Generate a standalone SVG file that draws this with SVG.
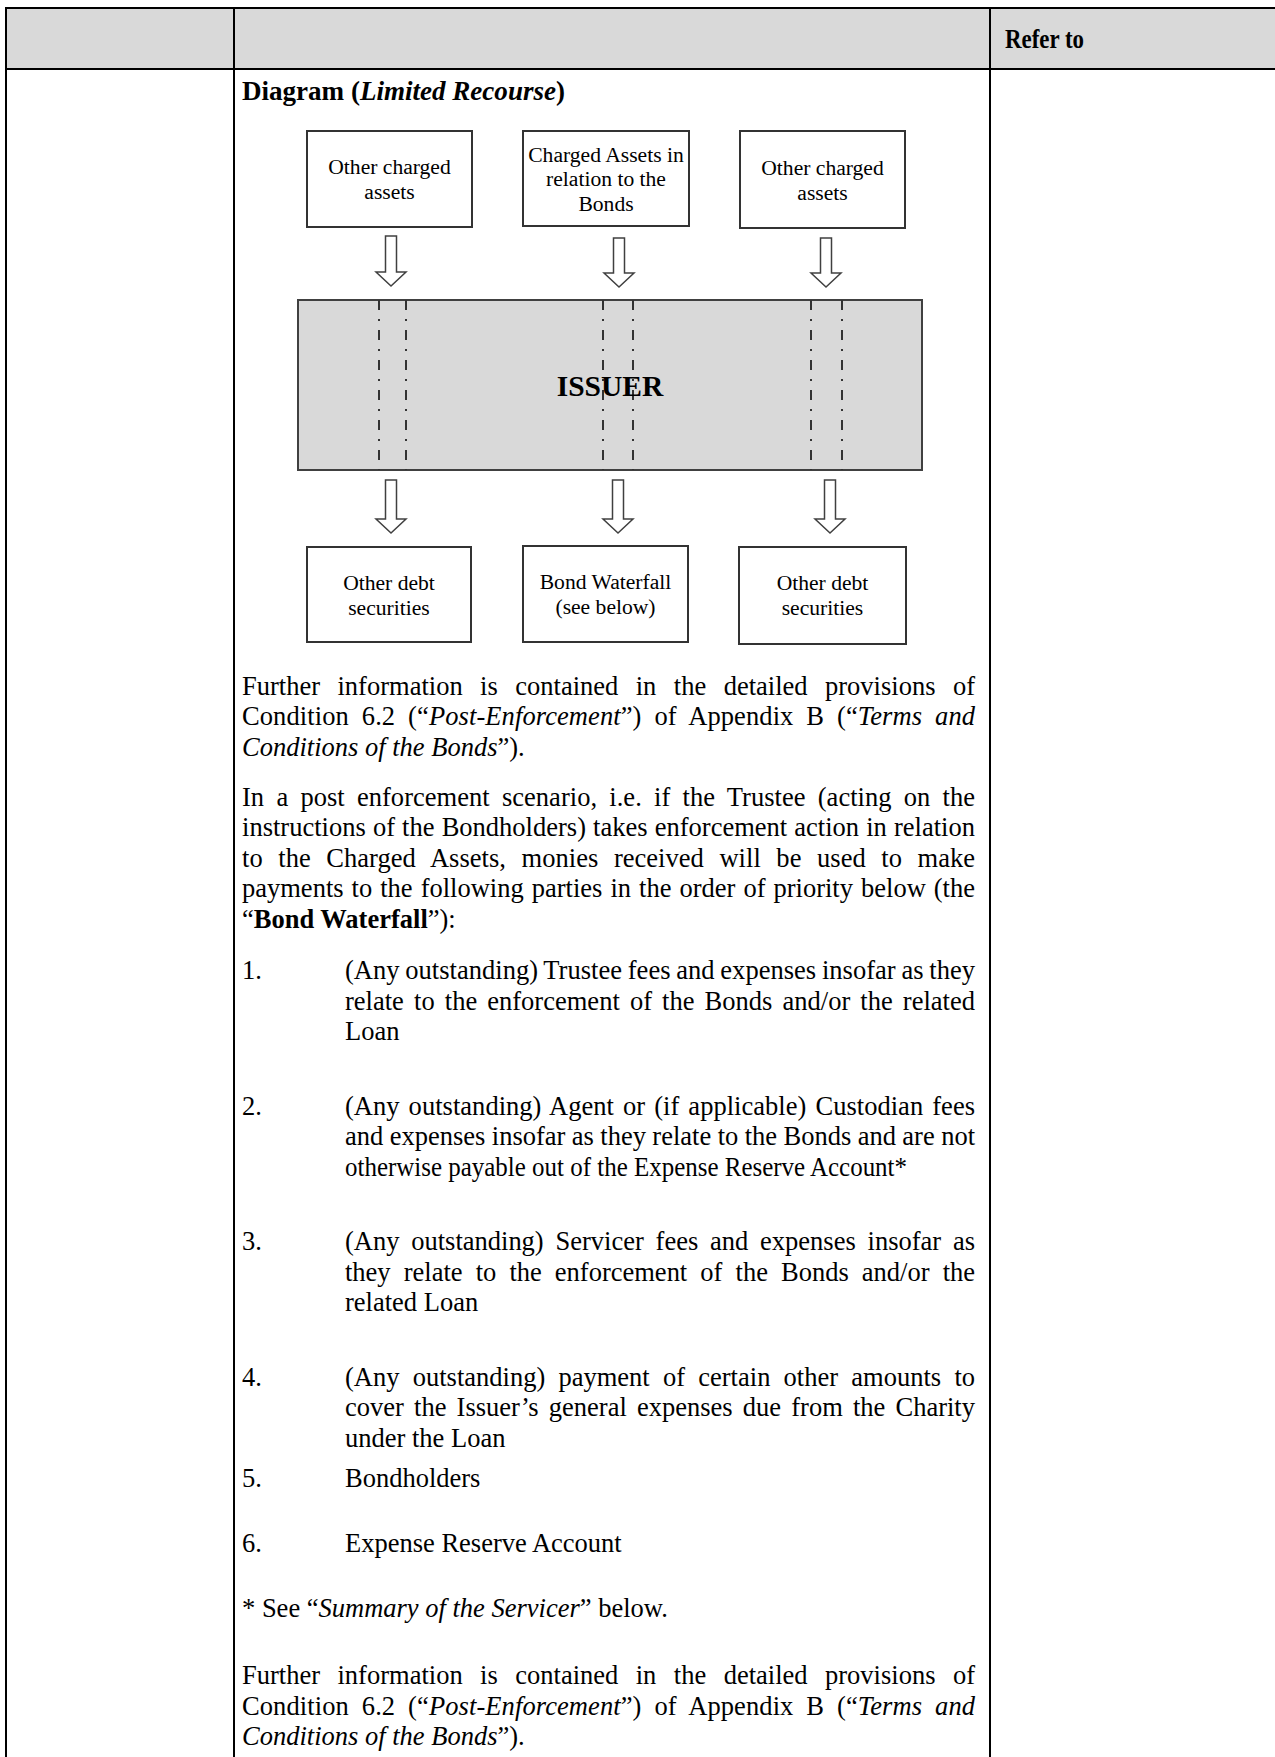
<svg xmlns="http://www.w3.org/2000/svg" width="1275" height="1757" viewBox="0 0 1275 1757">
<style>
.t{font-family:"Liberation Serif","Times New Roman",serif;font-size:26.5px;fill:#000}
.b{font-weight:bold}
.i{font-style:italic}
.grid{stroke:#000;stroke-width:2;fill:none}
.box{fill:#fff;stroke:#333;stroke-width:2}
.bt{font-family:"Liberation Serif","Times New Roman",serif;font-size:21.6px;fill:#000;text-anchor:middle}
.arrow{fill:#fff;stroke:#404040;stroke-width:1.5;stroke-linejoin:miter}
.dash{stroke:#333;stroke-width:2;stroke-dasharray:10 9 2 9;fill:none}
</style>
<rect x="0" y="0" width="1275" height="1757" fill="#fff"/>
<g id="table">
  <rect x="6" y="8" width="1269" height="61" fill="#d9d9d9"/>
  <line class="grid" x1="5" y1="8" x2="1275" y2="8"/>
  <line class="grid" x1="5" y1="69" x2="1275" y2="69"/>
  <line class="grid" x1="6" y1="7" x2="6" y2="1757"/>
  <line class="grid" x1="234" y1="7" x2="234" y2="1757"/>
  <line class="grid" x1="990" y1="7" x2="990" y2="1757"/>
  <text class="t b" x="1005" y="48" textLength="79" lengthAdjust="spacingAndGlyphs">Refer to</text>
  <text class="t b" x="242" y="100" textLength="323" lengthAdjust="spacingAndGlyphs">Diagram (<tspan class="i">Limited Recourse</tspan>)</text>
</g>
<g id="connectors">
  <polygon class="arrow" points="385.5,236 396.5,236 396.5,272 406,272 391,286 376,272 385.5,272"/>
  <polygon class="arrow" points="613.5,238 624.5,238 624.5,273 634,273 619,287 604,273 613.5,273"/>
  <polygon class="arrow" points="820.5,238 831.5,238 831.5,273 841,273 826,287 811,273 820.5,273"/>
  <polygon class="arrow" points="385.5,480 396.5,480 396.5,519 406,519 391,533 376,519 385.5,519"/>
  <polygon class="arrow" points="612.5,480 623.5,480 623.5,519 633,519 618,533 603,519 612.5,519"/>
  <polygon class="arrow" points="824.5,480 835.5,480 835.5,519 845,519 830,533 815,519 824.5,519"/>
</g>
<g id="node-other-assets-1">
  <rect class="box" x="307" y="131" width="165" height="96"/>
  <text class="bt" x="389.5" y="174">Other charged</text>
  <text class="bt" x="389.5" y="199">assets</text>
</g>
<g id="node-charged-assets">
  <rect class="box" x="523" y="131" width="166" height="95"/>
  <text class="bt" x="606" y="162">Charged Assets in</text>
  <text class="bt" x="606" y="186">relation to the</text>
  <text class="bt" x="606" y="211">Bonds</text>
</g>
<g id="node-other-assets-2">
  <rect class="box" x="740" y="131" width="165" height="97"/>
  <text class="bt" x="822.5" y="175">Other charged</text>
  <text class="bt" x="822.5" y="200">assets</text>
</g>
<g id="node-issuer">
  <rect x="298" y="300" width="624" height="170" fill="#d9d9d9" stroke="#404040" stroke-width="2"/>
  <line class="dash" x1="379" y1="300" x2="379" y2="470"/>
  <line class="dash" x1="406" y1="300" x2="406" y2="470"/>
  <line class="dash" x1="603" y1="300" x2="603" y2="470"/>
  <line class="dash" x1="633" y1="300" x2="633" y2="470"/>
  <line class="dash" x1="811" y1="300" x2="811" y2="470"/>
  <line class="dash" x1="842" y1="300" x2="842" y2="470"/>
  <text x="610" y="396" text-anchor="middle" font-family="'Liberation Serif','Times New Roman',serif" font-size="29.5" font-weight="bold">ISSUER</text>
</g>
<g id="node-other-debt-1">
  <rect class="box" x="307" y="547" width="164" height="95"/>
  <text class="bt" x="389" y="590">Other debt</text>
  <text class="bt" x="389" y="615">securities</text>
</g>
<g id="node-bond-waterfall">
  <rect class="box" x="523" y="546" width="165" height="96"/>
  <text class="bt" x="605.5" y="589">Bond Waterfall</text>
  <text class="bt" x="605.5" y="614">(see below)</text>
</g>
<g id="node-other-debt-2">
  <rect class="box" x="739" y="547" width="167" height="97"/>
  <text class="bt" x="822.5" y="590">Other debt</text>
  <text class="bt" x="822.5" y="615">securities</text>
</g>
<g id="body-text">
  <text class="t" x="242" y="694.5" word-spacing="10.8" textLength="733" lengthAdjust="spacing">Further information is contained in the detailed provisions of</text>
  <text class="t" x="242" y="725.1" word-spacing="6.2" textLength="733" lengthAdjust="spacing">Condition 6.2 (“<tspan class="i">Post-Enforcement</tspan>”) of Appendix B (“<tspan class="i">Terms and</tspan></text>
  <text class="t" x="242" y="755.7"><tspan class="i">Conditions of the Bonds</tspan>”).</text>

  <text class="t" x="242" y="805.5" word-spacing="5.6" textLength="733" lengthAdjust="spacing">In a post enforcement scenario, i.e. if the Trustee (acting on the</text>
  <text class="t" x="242" y="836.1" word-spacing="0.5" textLength="733" lengthAdjust="spacing">instructions of the Bondholders) takes enforcement action in relation</text>
  <text class="t" x="242" y="866.7" word-spacing="8.9" textLength="733" lengthAdjust="spacing">to the Charged Assets, monies received will be used to make</text>
  <text class="t" x="242" y="897.3" word-spacing="1.4" textLength="733" lengthAdjust="spacing">payments to the following parties in the order of priority below (the</text>
  <text class="t" x="242" y="927.9">“<tspan class="b">Bond Waterfall</tspan>”):</text>

  <text class="t" x="242" y="979">1.</text>
  <text class="t" x="345" y="979" word-spacing="-0.9" textLength="630" lengthAdjust="spacing">(Any outstanding) Trustee fees and expenses insofar as they</text>
  <text class="t" x="345" y="1009.6" word-spacing="3.5" textLength="630" lengthAdjust="spacing">relate to the enforcement of the Bonds and/or the related</text>
  <text class="t" x="345" y="1040.2">Loan</text>

  <text class="t" x="242" y="1114.5">2.</text>
  <text class="t" x="345" y="1114.5" word-spacing="2.4" textLength="630" lengthAdjust="spacing">(Any outstanding) Agent or (if applicable) Custodian fees</text>
  <text class="t" x="345" y="1145.1" word-spacing="-0.2" textLength="630" lengthAdjust="spacing">and expenses insofar as they relate to the Bonds and are not</text>
  <text class="t" x="345" y="1175.7" textLength="562" lengthAdjust="spacingAndGlyphs">otherwise payable out of the Expense Reserve Account*</text>

  <text class="t" x="242" y="1250">3.</text>
  <text class="t" x="345" y="1250" word-spacing="5.2" textLength="630" lengthAdjust="spacing">(Any outstanding) Servicer fees and expenses insofar as</text>
  <text class="t" x="345" y="1280.6" word-spacing="6.5" textLength="630" lengthAdjust="spacing">they relate to the enforcement of the Bonds and/or the</text>
  <text class="t" x="345" y="1311.2">related Loan</text>

  <text class="t" x="242" y="1385.5">4.</text>
  <text class="t" x="345" y="1385.5" word-spacing="6.6" textLength="630" lengthAdjust="spacing">(Any outstanding) payment of certain other amounts to</text>
  <text class="t" x="345" y="1416.1" word-spacing="3.5" textLength="630" lengthAdjust="spacing">cover the Issuer’s general expenses due from the Charity</text>
  <text class="t" x="345" y="1446.7">under the Loan</text>

  <text class="t" x="242" y="1486.5">5.</text>
  <text class="t" x="345" y="1486.5">Bondholders</text>

  <text class="t" x="242" y="1552">6.</text>
  <text class="t" x="345" y="1552">Expense Reserve Account</text>

  <text class="t" x="242" y="1617">* See “<tspan class="i">Summary of the Servicer</tspan>” below.</text>

  <text class="t" x="242" y="1684" word-spacing="10.8" textLength="733" lengthAdjust="spacing">Further information is contained in the detailed provisions of</text>
  <text class="t" x="242" y="1714.6" word-spacing="6.2" textLength="733" lengthAdjust="spacing">Condition 6.2 (“<tspan class="i">Post-Enforcement</tspan>”) of Appendix B (“<tspan class="i">Terms and</tspan></text>
  <text class="t" x="242" y="1745.2"><tspan class="i">Conditions of the Bonds</tspan>”).</text>
</g>
</svg>
